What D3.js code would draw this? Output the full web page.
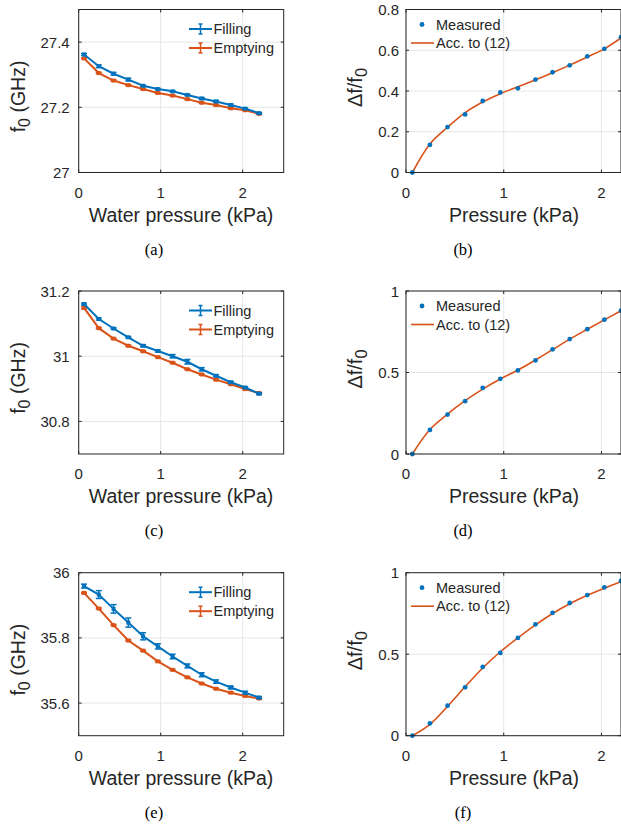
<!DOCTYPE html>
<html><head><meta charset="utf-8">
<script src="https://cdn.jsdelivr.net/npm/d3@7"></script>
<style>body{margin:0;background:#fff}svg{display:block}</style>
</head><body>
<svg id="c" width="621" height="832"></svg>
<script>
// ---- data ----
const pressure = [0.065,0.245,0.425,0.605,0.785,0.965,1.145,1.325,1.5,1.675,1.855,2.03,2.2];

const fillA  = [27.362,27.326,27.303,27.285,27.266,27.256,27.249,27.238,27.227,27.218,27.207,27.196,27.182];
const emptyA = [27.350,27.305,27.282,27.268,27.256,27.244,27.236,27.225,27.214,27.207,27.197,27.191,27.180];
const fillC  = [31.160,31.114,31.085,31.058,31.032,31.016,31.000,30.983,30.960,30.940,30.920,30.904,30.885];
const emptyC = [31.148,31.086,31.054,31.032,31.015,30.997,30.980,30.960,30.944,30.928,30.914,30.899,30.887];
const fillE  = [35.959,35.933,35.889,35.847,35.805,35.774,35.743,35.714,35.687,35.666,35.648,35.632,35.617];
const emptyE = [35.938,35.890,35.839,35.792,35.761,35.728,35.702,35.679,35.660,35.644,35.632,35.622,35.614];

const errFillA  = [0.003,0.004,0.004,0.004,0.002,0.002,0.002,0.002,0.003,0.003,0.003,0.002,0.002];
const errEmptyA = [0.002,0.002,0.002,0.002,0.002,0.002,0.002,0.002,0.002,0.002,0.002,0.002,0.002];
const errFillC  = [0.003,0.003,0.002,0.002,0.003,0.003,0.005,0.007,0.005,0.003,0.003,0.002,0.003];
const errEmptyC = [0.003,0.002,0.002,0.002,0.002,0.002,0.002,0.002,0.002,0.002,0.002,0.002,0.002];
const errFillE  = [0.006,0.012,0.013,0.014,0.011,0.008,0.007,0.006,0.006,0.005,0.004,0.004,0.003];
const errEmptyE = [0.002,0.002,0.002,0.002,0.002,0.002,0.002,0.002,0.002,0.002,0.002,0.002,0.002];

const measB = [0,0.136,0.223,0.285,0.351,0.393,0.413,0.456,0.492,0.526,0.570,0.607,0.664];
const fitB  = [0,0.140,0.222,0.294,0.346,0.387,0.421,0.455,0.490,0.527,0.567,0.607,0.660];
const measD = [0,0.148,0.242,0.324,0.406,0.461,0.513,0.574,0.642,0.705,0.766,0.824,0.879];
const fitD  = [0,0.150,0.245,0.327,0.398,0.460,0.515,0.577,0.640,0.705,0.765,0.823,0.879];
const measF = [0,0.076,0.184,0.297,0.422,0.508,0.600,0.683,0.754,0.814,0.863,0.910,0.949];
const fitF  = [0,0.070,0.180,0.300,0.415,0.515,0.600,0.680,0.750,0.810,0.862,0.905,0.945];

const ticksA = [27,27.2,27.4], ticksC = [30.8,31,31.2], ticksE = [35.6,35.8,36];
const ticksB = [0,0.2,0.4,0.6,0.8], ticksDF = [0,0.5,1];
const xTicks = [0,1,2];
const captions = ["(a)","(b)","(c)","(d)","(e)","(f)"];

// ---- style ----
const BLUE = "#0072BD", ORANGE = "#D95319", AX = "#262626", GRID = "#e6e6e6";
const FONT = "Liberation Sans, Arial, Helvetica, sans-serif";
const svg = d3.select("#c");
const rowTops = [9.5, 291, 572.7];
const H = 163;

function frame(g, x, y, yTicks) {
  const [x0,x1] = x.range(), [y1,y0] = y.range();
  g.selectAll(null).data(xTicks).join("line")
    .attr("x1", d=>x(d)).attr("x2", d=>x(d)).attr("y1", y0).attr("y2", y1)
    .attr("stroke", GRID).attr("stroke-width", 1);
  g.selectAll(null).data(yTicks).join("line")
    .attr("x1", x0).attr("x2", x1).attr("y1", d=>y(d)).attr("y2", d=>y(d))
    .attr("stroke", GRID).attr("stroke-width", 1);
}
function box(g, x, y, yTicks, gap) {
  const [x0,x1] = x.range(), [y1,y0] = y.range();
  const tl = 3;
  g.append("rect").attr("x", x0).attr("y", y0).attr("width", x1-x0).attr("height", y1-y0)
    .attr("fill","none").attr("stroke", AX).attr("stroke-width", 1);
  xTicks.forEach(t => {
    g.append("line").attr("x1",x(t)).attr("x2",x(t)).attr("y1",y1).attr("y2",y1-tl).attr("stroke",AX);
    g.append("line").attr("x1",x(t)).attr("x2",x(t)).attr("y1",y0).attr("y2",y0+tl).attr("stroke",AX);
  });
  yTicks.forEach(t => {
    g.append("line").attr("x1",x0).attr("x2",x0+tl).attr("y1",y(t)).attr("y2",y(t)).attr("stroke",AX);
    g.append("line").attr("x1",x1).attr("x2",x1-tl).attr("y1",y(t)).attr("y2",y(t)).attr("stroke",AX);
  });
  g.selectAll(null).data(xTicks).join("text")
    .attr("x", d=>x(d)).attr("y", y1+25).attr("text-anchor","middle")
    .attr("font-family",FONT).attr("font-size",15).attr("fill",AX).text(d=>d);
  g.selectAll(null).data(yTicks).join("text")
    .attr("x", x0-gap).attr("y", d=>y(d)+5.5).attr("text-anchor","end")
    .attr("font-family",FONT).attr("font-size",15).attr("fill",AX).text(d=>+d.toFixed(3));
}

function leftPanel(row, fill, empty, eF, eE, dom, yTicks) {
  const top = rowTops[row];
  const x = d3.scaleLinear().domain([0,2.5]).range([78.7, 283.7]);
  const y = d3.scaleLinear().domain(dom).range([top+H, top]);
  const g = svg.append("g");
  frame(g, x, y, yTicks);
  const line = d3.line().x((d,i)=>x(pressure[i])).y(d=>y(d));
  [[empty, eE, ORANGE],[fill, eF, BLUE]].forEach(([vals, errs, col]) => {
    g.append("path").attr("d", line(vals)).attr("fill","none").attr("stroke",col).attr("stroke-width",2);
    vals.forEach((v,i) => {
      const px = x(pressure[i]);
      const ya = y(v+errs[i]), yb = y(v-errs[i]);
      g.append("line").attr("x1",px).attr("x2",px).attr("y1",ya).attr("y2",yb).attr("stroke",col).attr("stroke-width",1.5);
      [ya,yb].forEach(yy => g.append("line").attr("x1",px-3).attr("x2",px+3).attr("y1",yy).attr("y2",yy).attr("stroke",col).attr("stroke-width",1.5));
      g.append("rect").attr("x",px-2).attr("y",y(v)-2).attr("width",4).attr("height",4).attr("fill",col);
    });
  });
  box(g, x, y, yTicks, 9);
  [["Filling",BLUE,19.5],["Emptying",ORANGE,38.5]].forEach(([lab,col,dy]) => {
    const ly = top+dy;
    g.append("line").attr("x1",189).attr("x2",212).attr("y1",ly).attr("y2",ly).attr("stroke",col).attr("stroke-width",2);
    g.append("line").attr("x1",200.5).attr("x2",200.5).attr("y1",ly-5).attr("y2",ly+5).attr("stroke",col).attr("stroke-width",1.5);
    [ly-5,ly+5].forEach(yy=>g.append("line").attr("x1",198.5).attr("x2",202.5).attr("y1",yy).attr("y2",yy).attr("stroke",col).attr("stroke-width",1.5));
    g.append("text").attr("x",213.5).attr("y",ly+5).attr("font-family",FONT).attr("font-size",14.5).attr("fill",AX).text(lab);
  });
  const yl = g.append("text").attr("transform",`translate(25,${top+87}) rotate(-90)`)
    .attr("text-anchor","middle").attr("font-family",FONT).attr("font-size",19.5).attr("fill",AX);
  yl.append("tspan").text("f");
  yl.append("tspan").attr("dy",5).attr("font-size",16).text("0");
  yl.append("tspan").attr("dy",-5).text(" (GHz)");
  g.append("text").attr("x",181).attr("y",top+212).attr("text-anchor","middle")
    .attr("font-family",FONT).attr("font-size",19.5).attr("fill",AX).text("Water pressure (kPa)");
  g.append("text").attr("x",154).attr("y",top+245).attr("text-anchor","middle")
    .attr("font-family","Liberation Serif, Times New Roman, serif").attr("font-size",16.5).attr("fill","#000").text(captions[row*2]);
}

function rightPanel(row, meas, fit, dom, yTicks) {
  const top = rowTops[row];
  const x = d3.scaleLinear().domain([0,2.2]).range([406, 621]);
  const y = d3.scaleLinear().domain(dom).range([top+H, top]);
  const g = svg.append("g");
  frame(g, x, y, yTicks);
  const line = d3.line().x((d,i)=>x(pressure[i])).y(d=>y(d)).curve(d3.curveCatmullRom.alpha(0.5));
  g.append("path").attr("d", line(fit)).attr("fill","none").attr("stroke",ORANGE).attr("stroke-width",1.6);
  g.selectAll(null).data(meas).join("circle")
    .attr("cx",(d,i)=>x(pressure[i])).attr("cy",d=>y(d)).attr("r",2.4).attr("fill",BLUE);
  box(g, x, y, yTicks, 7);
  g.append("circle").attr("cx",422).attr("cy",top+15).attr("r",2.4).attr("fill",BLUE);
  g.append("text").attr("x",436).attr("y",top+20).attr("font-family",FONT).attr("font-size",14.5).attr("fill",AX).text("Measured");
  g.append("line").attr("x1",411).attr("x2",434).attr("y1",top+33.5).attr("y2",top+33.5).attr("stroke",ORANGE).attr("stroke-width",1.6);
  g.append("text").attr("x",436).attr("y",top+38.5).attr("font-family",FONT).attr("font-size",14.5).attr("fill",AX).text("Acc. to (12)");
  const yl = g.append("text").attr("transform",`translate(362,${top+78}) rotate(-90)`)
    .attr("text-anchor","middle").attr("font-family",FONT).attr("font-size",20).attr("fill",AX);
  yl.append("tspan").text("Δf/f");
  yl.append("tspan").attr("dy",5).attr("font-size",16.5).text("0");
  g.append("text").attr("x",514).attr("y",top+212).attr("text-anchor","middle")
    .attr("font-family",FONT).attr("font-size",19.5).attr("fill",AX).text("Pressure (kPa)");
  g.append("text").attr("x",463).attr("y",top+245).attr("text-anchor","middle")
    .attr("font-family","Liberation Serif, Times New Roman, serif").attr("font-size",16.5).attr("fill","#000").text(captions[row*2+1]);
}

leftPanel(0, fillA, emptyA, errFillA, errEmptyA, [27,27.5], ticksA);
leftPanel(1, fillC, emptyC, errFillC, errEmptyC, [30.7,31.2], ticksC);
leftPanel(2, fillE, emptyE, errFillE, errEmptyE, [35.5,36], ticksE);
rightPanel(0, measB, fitB, [0,0.8], ticksB);
rightPanel(1, measD, fitD, [0,1], ticksDF);
rightPanel(2, measF, fitF, [0,1], ticksDF);
</script>
</body></html>
